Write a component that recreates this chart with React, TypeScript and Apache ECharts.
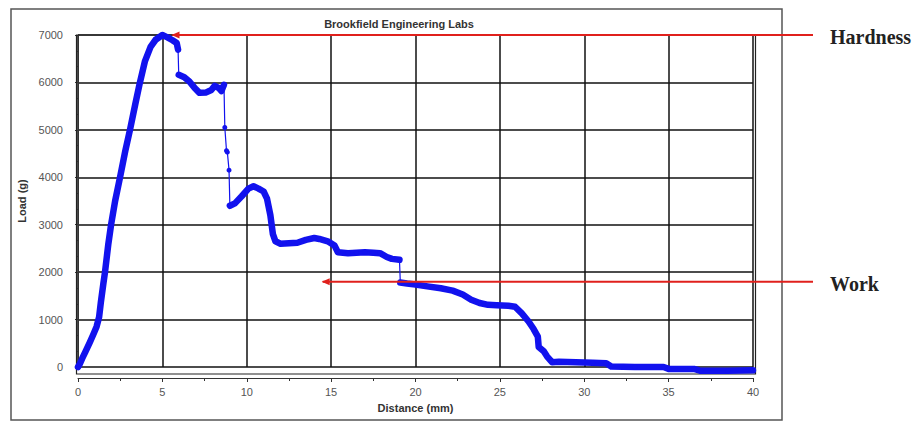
import React, { useEffect, useRef } from "react";
import * as echarts from "echarts";

const distanceMm = [
  0, 0.1, 0.25, 0.45, 0.7, 0.9, 1.1, 1.25, 1.35, 1.5, 1.6, 1.8, 1.96, 2.2, 2.49, 2.8, 3.08, 3.4, 3.67, 3.97,
  4.3, 4.6, 5.0, 5.3, 5.6, 5.85, 5.93, 5.97, 6.3, 6.6, 6.9, 7.2, 7.6, 7.9, 8.1, 8.35, 8.5, 8.65, 8.7, 8.8,
  8.85, 8.95, 9.0, 9.3, 9.7, 10.1, 10.4, 10.7, 11.0, 11.2, 11.4, 11.55, 11.7, 12.0, 12.5, 13.0, 13.5, 14.0, 14.3, 14.8,
  15.2, 15.4, 16.0, 16.5, 17.0, 17.5, 17.9, 18.3, 18.6, 19.05, 19.1, 19.5, 20.0, 20.7, 21.5, 22.2, 22.8, 23.3, 23.8, 24.3,
  24.8, 25.5, 25.9, 26.3, 26.7, 27.0, 27.25, 27.3, 27.6, 27.8, 28.1, 28.5, 29.5, 30.5, 31.3, 31.6, 33.0, 34.7, 35.0, 36.5,
  36.9, 38.5, 40.0,
];
const loadG = [
  0, 60, 180, 330, 520, 680, 850, 1050, 1350, 1750, 2000, 2600, 3000, 3500, 4000, 4550, 5000, 5550, 6000, 6450,
  6750, 6900, 7000, 6950, 6890, 6830, 6690, 6160, 6110, 6020, 5890, 5780, 5790, 5840, 5930, 5880, 5820, 5950, 5050, 4560,
  4530, 4150, 3400, 3450, 3600, 3760, 3810, 3760, 3700, 3550, 3200, 2800, 2650, 2600, 2610, 2620, 2680, 2720, 2700, 2650,
  2560, 2420, 2400, 2410, 2420, 2410, 2400, 2320, 2280, 2260, 1780, 1760, 1740, 1700, 1660, 1610, 1530, 1420, 1350, 1310,
  1300, 1290, 1270, 1130, 960, 800, 640, 420, 330, 220, 100, 110, 100, 90, 80, 10, 0, 0, -40, -40,
  -80, -80, -70,
];
// indices i where the segment i -> i+1 is a thin (fast) drop
const thinSegmentStarts = [26, 37, 38, 39, 40, 41, 69];

const xMin = 0;
const xMax = 40;
const xInterval = 5;
const yMin = 0;
const yMax = 7000;
const yInterval = 1000;

const titleText = "Brookfield Engineering Labs";
const xName = "Distance (mm)";
const yName = "Load (g)";

const hardnessLabel = "Hardness";
const hardnessLoad = 7000;
const hardnessArrowX = 5.6;
const workLabel = "Work";
const workLoad = 1800;
const workArrowX = 14.5;

const BLUE = "#1212ee";
const RED = "#e0201c";
const FONT = "Liberation Sans";

export default function App() {
  const ref = useRef<HTMLDivElement>(null);

  useEffect(() => {
    if (!ref.current) return;
    const chart = echarts.init(ref.current, null, { renderer: "svg" });
    const points = distanceMm.map((d, i) => [d, loadG[i]]);

    const runs: number[][][] = [];
    let start = 0;
    for (let i = 0; i < points.length - 1; i++) {
      if (thinSegmentStarts.includes(i)) {
        if (i > start) runs.push(points.slice(start, i + 1));
        start = i + 1;
      }
    }
    if (points.length - 1 > start) runs.push(points.slice(start));

    const thickSeries = runs.map((r) => ({
      type: "line",
      data: r,
      symbol: "none",
      clip: false,
      z: 2,
      lineStyle: { color: BLUE, width: 6.5, cap: "round", join: "round" },
    }));

    chart.setOption({
      animation: false,
      backgroundColor: "#ffffff",
      textStyle: { fontFamily: FONT },
      title: {
        text: titleText,
        left: 394,
        top: 13,
        textAlign: "center",
        textStyle: { fontSize: 11, fontWeight: "bold", color: "#333", fontFamily: FONT },
      },
      grid: { left: 78, right: 164, top: 35, bottom: 55, show: false },
      xAxis: {
        type: "value",
        min: xMin,
        max: xMax,
        interval: xInterval,
        offset: 11,
        name: xName,
        nameLocation: "middle",
        nameGap: 24,
        nameTextStyle: { fontSize: 11, fontWeight: "bold", color: "#333" },
        axisLine: { show: true, onZero: false, lineStyle: { color: "#333", width: 1 } },
        axisTick: { show: true, length: 4, lineStyle: { color: "#333" } },
        minorTick: { show: true, splitNumber: 2, length: 3, lineStyle: { color: "#333" } },
        axisLabel: { fontSize: 11, color: "#555", margin: 8, formatter: (v: number) => String(v) },
        splitLine: { show: true, lineStyle: { color: "#111", width: 1.5 } },
      },
      yAxis: {
        type: "value",
        min: yMin,
        max: yMax,
        interval: yInterval,
        offset: 7,
        name: yName,
        nameLocation: "middle",
        nameGap: 38,
        nameRotate: 90,
        nameTextStyle: { fontSize: 11, fontWeight: "bold", color: "#333" },
        axisLine: { show: true, lineStyle: { color: "#333", width: 1 } },
        axisTick: { show: true, length: 3, lineStyle: { color: "#333" } },
        minorTick: { show: true, splitNumber: 3, length: 2, lineStyle: { color: "#333" } },
        axisLabel: { fontSize: 11, color: "#555", margin: 8, formatter: (v: number) => String(v) },
        splitLine: { show: true, lineStyle: { color: "#111", width: 1.5 } },
      },
      series: [
        ...thickSeries,
        {
          type: "line",
          data: points,
          symbol: "circle",
          symbolSize: 5,
          showSymbol: true,
          clip: false,
          z: 3,
          lineStyle: { color: BLUE, width: 1.2 },
          itemStyle: { color: BLUE },
        },
      ],
    });

    const toPx = (x: number, y: number) => chart.convertToPixel({ gridIndex: 0 }, [x, y]) as number[];
    const [hx, hy] = toPx(hardnessArrowX, hardnessLoad);
    const [wx, wy] = toPx(workArrowX, workLoad);
    const [px0, pyTop] = toPx(xMin, yMax);
    const [px1, py0] = toPx(xMax, yMin);
    const lineEnd = 813;
    const textX = 830;

    const arrow = (x: number, y: number) => ({
      type: "polygon",
      z: 20,
      shape: { points: [[x, y], [x + 8, y - 3.5], [x + 8, y + 3.5]] },
      style: { fill: RED },
    });

    chart.setOption({
      graphic: [
        {
          type: "rect",
          z: 1,
          shape: { x: 11, y: 9, width: 771, height: 411 },
          style: { fill: "none", stroke: "#555", lineWidth: 1.5 },
        },
        {
          type: "rect",
          z: 1,
          shape: { x: px0 - 1.5, y: pyTop, width: px1 - px0 + 4, height: py0 - pyTop + 7 },
          style: { fill: "none", stroke: "#222", lineWidth: 1.2 },
        },
        {
          type: "line",
          z: 20,
          shape: { x1: hx, y1: hy, x2: lineEnd, y2: hy },
          style: { stroke: RED, lineWidth: 2 },
        },
        arrow(hx - 1, hy),
        {
          type: "line",
          z: 20,
          shape: { x1: wx, y1: wy, x2: lineEnd, y2: wy },
          style: { stroke: RED, lineWidth: 2 },
        },
        arrow(wx - 1, wy),
        {
          type: "text",
          z: 20,
          style: {
            text: hardnessLabel,
            x: textX,
            y: hy + 2,
            fill: "#222",
            fontSize: 20,
            fontWeight: "bold",
            fontFamily: "Liberation Serif",
            textAlign: "left",
            textVerticalAlign: "middle",
          },
        },
        {
          type: "text",
          z: 20,
          style: {
            text: workLabel,
            x: textX,
            y: wy + 2,
            fill: "#222",
            fontSize: 20,
            fontWeight: "bold",
            fontFamily: "Liberation Serif",
            textAlign: "left",
            textVerticalAlign: "middle",
          },
        },
      ],
    });

    return () => chart.dispose();
  }, []);

  return (
    <div
      ref={ref}
      style={{ position: "absolute", left: 0, top: 0, width: 917, height: 422, background: "#fff" }}
    />
  );
}
